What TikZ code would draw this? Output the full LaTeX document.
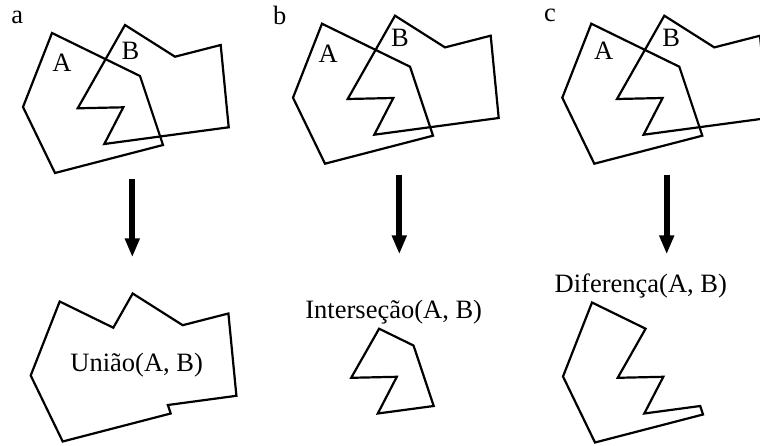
\documentclass[tikz,border=0pt]{standalone}
\usepackage{fontspec}
\setmainfont{Liberation Serif}
\usetikzlibrary{arrows.meta}
\begin{document}
\begin{tikzpicture}[x=1pt,y=-1pt,
  poly/.style={draw=black,line width=2.2pt,line join=miter},
  lbl/.style={anchor=base,inner sep=0pt,font=\fontsize{26.5}{31}\selectfont},
  bigarrow/.style={line width=6.2pt,-{Triangle[length=19pt,width=14pt]}}]
\useasboundingbox (0,0) rectangle (760,446);
\clip (0,0) rectangle (760,446);
% base coordinates (panel a)
\def\Apoly#1#2{(52+#1,33+#2) -- (140+#1,76+#2) -- (163+#1,145+#2) -- (55+#1,173+#2) -- (23+#1,107+#2) -- cycle}
\def\Bpoly#1#2{(125+#1,25+#2) -- (175+#1,56.7+#2) -- (220.7+#1,45+#2) -- (228.7+#1,127.3+#2) -- (104.3+#1,144+#2) -- (123.3+#1,107.3+#2) -- (77.7+#1,108.3+#2) -- cycle}
% top panels
\draw[poly] \Apoly{0}{0};
\draw[poly] \Bpoly{0}{0};
\draw[poly] \Apoly{270}{-9.3};
\draw[poly] \Bpoly{270}{-9.3};
\draw[poly] \Apoly{539.3}{-9.3};
\draw[poly] \Bpoly{539.3}{-9.3};
% union
\draw[poly] (59.7,301.5) -- (113.3,327.7) -- (132.7,293.5) -- (182.7,325.2) -- (228.4,313.5) -- (236.4,395.8) -- (167.9,405.0) -- (170.7,413.5) -- (62.7,441.5) -- (30.7,375.5) -- cycle;
% intersection
\draw[poly] (379.1,328.7) -- (413.5,345.5) -- (433.7,406.0) -- (377.8,413.5) -- (396.8,376.8) -- (351.2,377.8) -- cycle;
% difference
\draw[poly] (592,302.5) -- (645.6,328.7) -- (617.7,377.8) -- (663.3,376.8) -- (644.3,413.5) -- (700.2,406.0) -- (703,414.5) -- (595,442.5) -- (563,376.5) -- cycle;
% labels
\node[lbl] (la) at (17.3,24) {a};
\node[lbl] (lb) at (279.7,25) {b};
\node[lbl] (lc) at (550,21.7) {c};
\node[lbl] (aA) at (62,71.7) {A};
\node[lbl] (aB) at (130.5,60) {B};
\node[lbl] (bA) at (328.3,62.3) {A};
\node[lbl] (bB) at (400,46.7) {B};
\node[lbl] (cA) at (603.7,59.3) {A};
\node[lbl] (cB) at (671.3,46.7) {B};
\node[lbl] (tu) at (136.7,371.7) {União(A, B)};
\node[lbl] (ti) at (393.7,318.3) {Interseção(A, B)};
\node[lbl] (td) at (640.8,292.7) {Diferença(A, B)};
% arrows
\coordinate (a1) at (132.3,179.3);
\coordinate (a2) at (132.3,257.3);
\coordinate (b1) at (399.3,175);
\coordinate (b2) at (399.3,254.3);
\coordinate (c1) at (666.7,175);
\coordinate (c2) at (666.7,254.3);
\draw[bigarrow] (a1) -- (a2);
\draw[bigarrow] (b1) -- (b2);
\draw[bigarrow] (c1) -- (c2);
\end{tikzpicture}
\end{document}
